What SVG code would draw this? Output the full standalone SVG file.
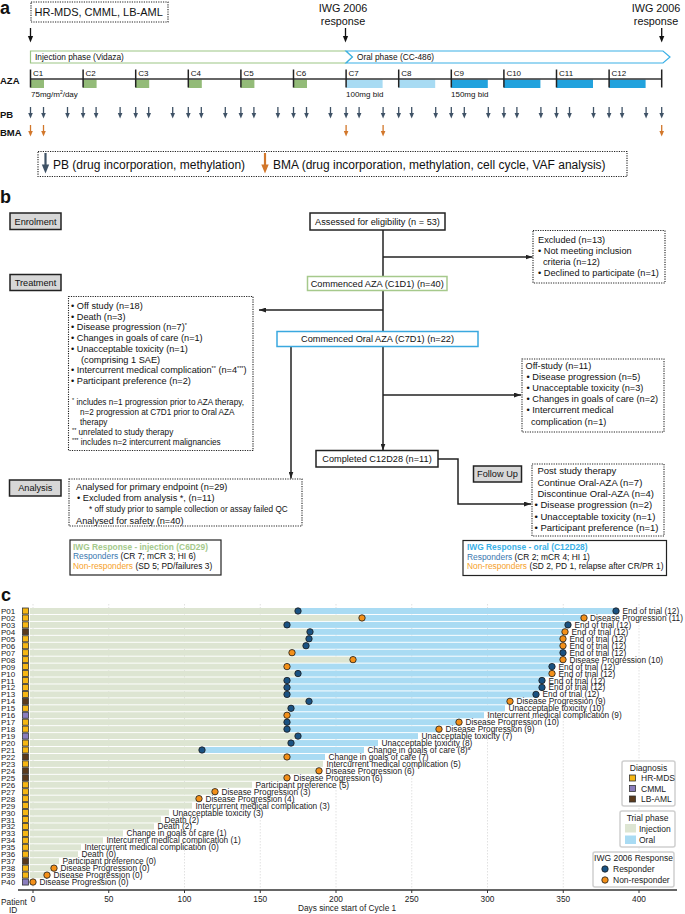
<svg xmlns="http://www.w3.org/2000/svg" xmlns:xlink="http://www.w3.org/1999/xlink" width="685" height="914" viewBox="0 0 685 914">
<style>
text{font-family:"Liberation Sans",Arial,sans-serif;fill:#111}
.pl{font-size:18px;font-weight:bold}
.t8{font-size:8.2px}
.t9{font-size:9.2px}
.tf{font-size:8.2px}
.bold{font-weight:bold}
.dot{fill:none;stroke:#222;stroke-width:1.1;stroke-dasharray:1.2 1.2}
.sol{fill:#fff;stroke:#222;stroke-width:1.5}
.gry{fill:#d7d7d7;stroke:#222;stroke-width:1.5}
.con{fill:none;stroke:#222;stroke-width:1.5}
.inj{fill:#dde5d2}
.ora{fill:#a9dbf3}
.rs{fill:#1a5282;stroke:#1a1a1a;stroke-width:0.8}
.nr{fill:#f39019;stroke:#1a1a1a;stroke-width:0.8}
.dy{fill:#f5b614;stroke:#333;stroke-width:0.8}
.dp{fill:#8a7dbd;stroke:#333;stroke-width:0.8}
.db{fill:#5b3a1c;stroke:#333;stroke-width:0.8}
.pid{font-size:8px;fill:#222}
.lb{font-size:8.3px;fill:#222}
.grid{stroke:#d4d4d4;stroke-width:0.7;stroke-dasharray:1.5 1.5}
.leg{fill:#fff;stroke:#cfcfcf;stroke-width:1.5}
.lt{font-size:8.5px;fill:#222}
</style>
<defs>
<marker id="ah" markerUnits="userSpaceOnUse" markerWidth="7" markerHeight="5" refX="7" refY="2.5" orient="auto"><path d="M0,0 L7,2.5 L0,5 z" fill="#222"/></marker>
<g id="aPB"><line x1="0" y1="0" x2="0" y2="7" stroke="#3f5266" stroke-width="1.3"/><polygon points="-2.3,6 2.3,6 0,11.5" fill="#3f5266"/></g>
<g id="aBM"><line x1="0" y1="0" x2="0" y2="7" stroke="#d2772b" stroke-width="1.3"/><polygon points="-2.3,6 2.3,6 0,11.5" fill="#d2772b"/></g>
<g id="aTop"><line x1="0" y1="0" x2="0" y2="9" stroke="#111" stroke-width="1.3"/><polygon points="-2.6,8 2.6,8 0,14.5" fill="#111"/></g>
</defs>

<!-- ===== Panel a ===== -->
<g id="panel-a">
<text class="pl" x="0" y="14">a</text>
<g id="a-entry">
<rect class="dot" x="31" y="2" width="137" height="20"/>
<text x="34.5" y="16" font-size="11px">HR-MDS, CMML, LB-AML</text>
<use xlink:href="#aTop" x="30.5" y="28"/>
</g>
<g id="a-iwg1">
<text x="343" y="11.5" font-size="10.8px" text-anchor="middle">IWG 2006</text>
<text x="343" y="25" font-size="10.8px" text-anchor="middle">response</text>
<use xlink:href="#aTop" x="345.5" y="28"/>
</g>
<g id="a-iwg2">
<text x="656" y="11.5" font-size="10.8px" text-anchor="middle">IWG 2006</text>
<text x="656" y="25" font-size="10.8px" text-anchor="middle">response</text>
<use xlink:href="#aTop" x="661.7" y="28"/>
</g>
<g id="a-phases">
<polygon points="30.5,51 346,51 352.5,57 346,63 30.5,63" fill="#fff" stroke="#9cc584" stroke-width="1.2"/>
<text x="35" y="60" font-size="8.3px" fill="#222">Injection phase (Vidaza)</text>
<polygon points="346,51 663,51 670,57 663,63 346,63 352.5,57" fill="#fff" stroke="#3ab0e6" stroke-width="1.2"/>
<text x="357" y="60" font-size="8.3px" fill="#222">Oral phase (CC-486)</text>
</g>
<g id="a-aza">
<text x="0" y="84" font-size="9.5px" class="bold">AZA</text>
<g fill="#93bb78">
<rect x="30.5" y="79.5" width="13.5" height="8.5"/><rect x="83.1" y="79.5" width="13.5" height="8.5"/><rect x="135.7" y="79.5" width="13.5" height="8.5"/><rect x="188.3" y="79.5" width="13.5" height="8.5"/><rect x="240.9" y="79.5" width="13.5" height="8.5"/><rect x="293.5" y="79.5" width="13.5" height="8.5"/>
</g>
<g fill="#a8dbf3"><rect x="346.1" y="79.5" width="36.5" height="8.5"/><rect x="398.7" y="79.5" width="36.5" height="8.5"/></g>
<g fill="#22a2dd"><rect x="451.3" y="79.5" width="36.5" height="8.5"/><rect x="503.9" y="79.5" width="36.5" height="8.5"/><rect x="556.5" y="79.5" width="36.5" height="8.5"/><rect x="609.1" y="79.5" width="36.5" height="8.5"/></g>
<line x1="30.5" y1="79" x2="661.7" y2="79" stroke="#333" stroke-width="1.5"/>
<g stroke="#222" stroke-width="1.5">
<line x1="30.5" y1="69.5" x2="30.5" y2="87.5"/><line x1="83.1" y1="69.5" x2="83.1" y2="87.5"/><line x1="135.7" y1="69.5" x2="135.7" y2="87.5"/><line x1="188.3" y1="69.5" x2="188.3" y2="87.5"/><line x1="240.9" y1="69.5" x2="240.9" y2="87.5"/><line x1="293.5" y1="69.5" x2="293.5" y2="87.5"/><line x1="346.1" y1="69.5" x2="346.1" y2="87.5"/><line x1="398.7" y1="69.5" x2="398.7" y2="87.5"/><line x1="451.3" y1="69.5" x2="451.3" y2="87.5"/><line x1="503.9" y1="69.5" x2="503.9" y2="87.5"/><line x1="556.5" y1="69.5" x2="556.5" y2="87.5"/><line x1="609.1" y1="69.5" x2="609.1" y2="87.5"/><line x1="661.7" y1="69.5" x2="661.7" y2="87.5"/>
</g>
<g font-size="8px">
<text x="33" y="76">C1</text><text x="85.6" y="76">C2</text><text x="138.2" y="76">C3</text><text x="190.8" y="76">C4</text><text x="243.4" y="76">C5</text><text x="296" y="76">C6</text><text x="348.6" y="76">C7</text><text x="401.2" y="76">C8</text><text x="453.8" y="76">C9</text><text x="506.4" y="76">C10</text><text x="559" y="76">C11</text><text x="611.6" y="76">C12</text>
</g>
<text x="31" y="97" font-size="8px">75mg/m<tspan font-size="5px" dy="-3">2</tspan><tspan dy="3">/day</tspan></text>
<text x="346" y="97" font-size="8px">100mg bid</text>
<text x="451" y="97" font-size="8px">150mg bid</text>
</g>
<g id="a-pb">
<text x="0" y="117.5" font-size="9.5px" class="bold">PB</text>
<use xlink:href="#aPB" x="30.5" y="107"/><use xlink:href="#aPB" x="43.5" y="107"/><use xlink:href="#aPB" x="67.5" y="107"/>
<use xlink:href="#aPB" x="83.1" y="107"/><use xlink:href="#aPB" x="96.1" y="107"/><use xlink:href="#aPB" x="120.1" y="107"/>
<use xlink:href="#aPB" x="135.7" y="107"/><use xlink:href="#aPB" x="148.7" y="107"/><use xlink:href="#aPB" x="172.7" y="107"/>
<use xlink:href="#aPB" x="188.3" y="107"/><use xlink:href="#aPB" x="201.3" y="107"/><use xlink:href="#aPB" x="225.3" y="107"/>
<use xlink:href="#aPB" x="240.9" y="107"/><use xlink:href="#aPB" x="253.9" y="107"/><use xlink:href="#aPB" x="277.9" y="107"/>
<use xlink:href="#aPB" x="293.5" y="107"/><use xlink:href="#aPB" x="306.5" y="107"/><use xlink:href="#aPB" x="330.5" y="107"/>
<use xlink:href="#aPB" x="346.1" y="107"/><use xlink:href="#aPB" x="359.1" y="107"/><use xlink:href="#aPB" x="383.1" y="107"/>
<use xlink:href="#aPB" x="398.7" y="107"/><use xlink:href="#aPB" x="411.7" y="107"/><use xlink:href="#aPB" x="435.7" y="107"/>
<use xlink:href="#aPB" x="451.3" y="107"/><use xlink:href="#aPB" x="464.3" y="107"/><use xlink:href="#aPB" x="488.3" y="107"/>
<use xlink:href="#aPB" x="503.9" y="107"/><use xlink:href="#aPB" x="516.9" y="107"/><use xlink:href="#aPB" x="540.9" y="107"/>
<use xlink:href="#aPB" x="556.5" y="107"/><use xlink:href="#aPB" x="569.5" y="107"/><use xlink:href="#aPB" x="593.5" y="107"/>
<use xlink:href="#aPB" x="609.1" y="107"/><use xlink:href="#aPB" x="622.1" y="107"/><use xlink:href="#aPB" x="646.1" y="107"/>
<use xlink:href="#aPB" x="661.7" y="107"/>
</g>
<g id="a-bma">
<text x="0" y="136" font-size="9.5px" class="bold">BMA</text>
<use xlink:href="#aBM" x="30.5" y="125"/><use xlink:href="#aBM" x="43.5" y="125"/><use xlink:href="#aBM" x="346.1" y="125"/><use xlink:href="#aBM" x="383.1" y="125"/><use xlink:href="#aBM" x="661.7" y="125"/>
</g>
<g id="a-legend">
<rect class="dot" x="38" y="151.5" width="589" height="25"/>
<line x1="45.5" y1="153" x2="45.5" y2="166" stroke="#3f5266" stroke-width="2.2"/><polygon points="41.8,164.5 49.2,164.5 45.5,173.5" fill="#3f5266"/>
<text x="53" y="168.5" font-size="12px">PB (drug incorporation, methylation)</text>
<line x1="265" y1="153" x2="265" y2="166" stroke="#d2772b" stroke-width="2.2"/><polygon points="261.3,164.5 268.7,164.5 265,173.5" fill="#d2772b"/>
<text x="273" y="168.5" font-size="12px">BMA (drug incorporation, methylation, cell cycle, VAF analysis)</text>
</g>
</g>

<!-- ===== Panel b ===== -->
<g id="panel-b">
<text class="pl" x="0" y="203">b</text>
<g id="connectors">
<path class="con" d="M383,230 V276.5"/>
<path class="con" d="M383,257 H532.5" marker-end="url(#ah)"/>
<path class="con" d="M383,290.5 V331.5"/>
<path class="con" d="M383,310 H259" marker-end="url(#ah)"/>
<path class="con" d="M383,346.5 V450.5" marker-end="url(#ah)"/>
<path class="con" d="M383,395 H521" marker-end="url(#ah)"/>
<path class="con" d="M291,346.5 V478.5" marker-end="url(#ah)"/>
<path class="con" d="M438,459 H458 V504 H531" marker-end="url(#ah)"/>
</g>
<g id="enrolment"><rect class="gry" x="10" y="213" width="51" height="16.5"/><text class="t9" x="35.5" y="224.5" text-anchor="middle">Enrolment</text></g>
<g id="treatment"><rect class="gry" x="10" y="274.5" width="51" height="16"/><text class="t9" x="35.5" y="285.8" text-anchor="middle">Treatment</text></g>
<g id="analysis"><rect class="gry" x="9.5" y="480" width="51.5" height="16"/><text class="t9" x="35.25" y="491.3" text-anchor="middle">Analysis</text></g>
<g id="followup"><rect class="gry" x="473.5" y="466" width="48" height="16"/><text class="t9" x="497.5" y="477.3" text-anchor="middle">Follow Up</text></g>
<g id="assessed"><rect class="sol" x="310" y="213" width="135" height="17"/><text class="t9" x="377.5" y="224.8" text-anchor="middle">Assessed for eligibility (n = 53)</text></g>
<g id="c1d1"><rect x="307.5" y="276.5" width="139.5" height="14" fill="#fff" stroke="#a6c98c" stroke-width="1.5"/><text class="t9" x="377.25" y="286.8" text-anchor="middle">Commenced AZA (C1D1) (n=40)</text></g>
<g id="c7d1"><rect x="277" y="331.5" width="201" height="15" fill="#fff" stroke="#3aa8df" stroke-width="1.5"/><text class="t9" x="377.5" y="342.3" text-anchor="middle">Commenced Oral AZA (C7D1) (n=22)</text></g>
<g id="completed"><rect class="sol" x="316" y="450.5" width="122" height="16.5"/><text class="t9" x="377" y="462" text-anchor="middle">Completed C12D28 (n=11)</text></g>
<g id="excluded">
<rect class="dot" x="533" y="230.5" width="132" height="52.5"/>
<text class="t9" x="538" y="242.5">Excluded (n=13)</text>
<text class="t9" x="538" y="254">• Not meeting inclusion</text>
<text class="t9" x="543" y="265">criteria (n=12)</text>
<text class="t9" x="538" y="276">• Declined to participate (n=1)</text>
</g>
<g id="offstudy-injection">
<rect class="dot" x="68.5" y="296.5" width="184.5" height="154"/>
<text class="t9" x="71" y="309">• Off study (n=18)</text>
<text class="t9" x="71" y="319.7">• Death (n=3)</text>
<text class="t9" x="71" y="330.4">• Disease progression (n=7)<tspan font-size="5.5px" dy="-3.5">*</tspan></text>
<text class="t9" x="71" y="341.1">• Changes in goals of care (n=1)</text>
<text class="t9" x="71" y="351.8">• Unacceptable toxicity (n=1)</text>
<text class="t9" x="81" y="362.5" font-size="8.5px">(comprising 1 SAE)</text>
<text class="t9" x="71" y="373.2">• Intercurrent medical complication<tspan font-size="5.5px" dy="-3.5">**</tspan><tspan dy="3.5"> (n=4</tspan><tspan font-size="5.5px" dy="-3.5">***</tspan><tspan dy="3.5">)</tspan></text>
<text class="t9" x="71" y="383.9">• Participant preference (n=2)</text>
<text class="tf" x="72" y="405"><tspan font-size="5.5px" dy="-3">*</tspan><tspan dy="3"> includes n=1 progression prior to AZA therapy,</tspan></text>
<text class="tf" x="80" y="415">n=2 progression at C7D1 prior to Oral AZA</text>
<text class="tf" x="80" y="425">therapy</text>
<text class="tf" x="72" y="435"><tspan font-size="5.5px" dy="-3">**</tspan><tspan dy="3"> unrelated to study therapy</tspan></text>
<text class="tf" x="72" y="445"><tspan font-size="5.5px" dy="-3">***</tspan><tspan dy="3"> includes n=2 intercurrent malignancies</tspan></text>
</g>
<g id="offstudy-oral">
<rect class="dot" x="522" y="359" width="142" height="73"/>
<text class="t9" x="525.5" y="368.5">Off-study (n=11)</text>
<text class="t9" x="526.5" y="380">• Disease progression (n=5)</text>
<text class="t9" x="526.5" y="391">• Unacceptable toxicity (n=3)</text>
<text class="t9" x="526.5" y="402">• Changes in goals of care (n=2)</text>
<text class="t9" x="526.5" y="413">• Intercurrent medical</text>
<text class="t9" x="531" y="424.5">complication (n=1)</text>
</g>
<g id="poststudy">
<rect class="dot" x="532" y="464" width="132" height="72"/>
<text x="537.5" y="474.3" font-size="9.5px">Post study therapy</text>
<text x="537.5" y="485.6" font-size="9.5px">Continue Oral-AZA (n=7)</text>
<text x="537.5" y="496.9" font-size="9.5px">Discontinue Oral-AZA (n=4)</text>
<text x="534.5" y="508.2" font-size="9.5px">• Disease progression (n=2)</text>
<text x="534.5" y="519.5" font-size="9.5px">• Unacceptable toxicity (n=1)</text>
<text x="534.5" y="530.8" font-size="9.5px">• Participant preference (n=1)</text>
</g>
<g id="analysed">
<rect class="dot" x="69" y="479" width="233" height="47"/>
<text class="t9" x="76" y="490.3">Analysed for primary endpoint (n=29)</text>
<text class="t9" x="77" y="501.3">• Excluded from analysis *,  (n=11)</text>
<text class="tf" x="89" y="512">* off study prior to sample collection or assay failed QC</text>
<text class="t9" x="76" y="523.5">Analysed for safety (n=40)</text>
</g>
<g id="iwg-injection">
<rect x="70" y="540" width="151" height="35" fill="#fff" stroke="#222" stroke-width="1.2"/>
<text x="73" y="549.5" font-size="8.4px" class="bold" style="fill:#a4c98b">IWG Response - injection (C6D29)</text>
<text x="73" y="559.2" font-size="8.4px"><tspan style="fill:#3b78b0">Responders</tspan> (CR 7; mCR 3;  HI 6)</text>
<text x="73" y="568.9" font-size="8.4px"><tspan style="fill:#f6a12b">Non-responders</tspan> (SD 5; PD/failures 3)</text>
</g>
<g id="iwg-oral">
<rect x="463" y="540.5" width="203.5" height="35" fill="#fff" stroke="#222" stroke-width="1.2"/>
<text x="467" y="550" font-size="8.4px" class="bold" style="fill:#3ab0e6">IWG Response - oral (C12D28)</text>
<text x="467" y="559.7" font-size="8.4px"><tspan style="fill:#3b78b0">Responders</tspan> (CR 2; mCR 4; HI 1)</text>
<text x="467" y="569.4" font-size="8.4px"><tspan style="fill:#f6a12b">Non-responders</tspan> (SD 2, PD 1, relapse after CR/PR 1)</text>
</g>
</g>

<!-- ===== Panel c ===== -->
<g id="panel-c">
<text class="pl" x="1" y="601">c</text>
<g id="grid">
<line class="grid" x1="33" y1="604" x2="33" y2="889"/><line class="grid" x1="108.75" y1="604" x2="108.75" y2="889"/><line class="grid" x1="184.5" y1="604" x2="184.5" y2="889"/><line class="grid" x1="260.25" y1="604" x2="260.25" y2="889"/><line class="grid" x1="336" y1="604" x2="336" y2="889"/><line class="grid" x1="411.75" y1="604" x2="411.75" y2="889"/><line class="grid" x1="487.5" y1="604" x2="487.5" y2="889"/><line class="grid" x1="563.25" y1="604" x2="563.25" y2="889"/><line class="grid" x1="639" y1="604" x2="639" y2="889"/>
</g>
<g id="rows">
<g id="P01" transform="translate(0,611)"><text class="pid" x="1" y="3">P01</text><rect class="dy" x="22.5" y="-3" width="6" height="6"/><rect class="inj" x="30" y="-3" width="268" height="6"/><rect class="ora" x="298" y="-3" width="318" height="6"/><circle class="rs" cx="298" r="3.2"/><circle class="rs" cx="616" r="3.2"/><text class="lb" x="622.5" y="3">End of trial (12)</text></g>
<g id="P02" transform="translate(0,617.95)"><text class="pid" x="1" y="3">P02</text><rect class="dy" x="22.5" y="-3" width="6" height="6"/><rect class="inj" x="30" y="-3" width="332" height="6"/><rect class="ora" x="362" y="-3" width="222" height="6"/><circle class="nr" cx="362" r="3.2"/><circle class="nr" cx="584" r="3.2"/><text class="lb" x="590" y="3">Disease Progression (11)</text></g>
<g id="P03" transform="translate(0,624.9)"><text class="pid" x="1" y="3">P03</text><rect class="dy" x="22.5" y="-3" width="6" height="6"/><rect class="inj" x="30" y="-3" width="257" height="6"/><rect class="ora" x="287" y="-3" width="281" height="6"/><circle class="rs" cx="287" r="3.2"/><circle class="rs" cx="568" r="3.2"/><text class="lb" x="574.5" y="3">End of trial (12)</text></g>
<g id="P04" transform="translate(0,631.85)"><text class="pid" x="1" y="3">P04</text><rect class="db" x="22.5" y="-3" width="6" height="6"/><rect class="inj" x="30" y="-3" width="280" height="6"/><rect class="ora" x="310" y="-3" width="255" height="6"/><circle class="rs" cx="310" r="3.2"/><circle class="nr" cx="565" r="3.2"/><text class="lb" x="571.5" y="3">End of trial (12)</text></g>
<g id="P05" transform="translate(0,638.8)"><text class="pid" x="1" y="3">P05</text><rect class="dy" x="22.5" y="-3" width="6" height="6"/><rect class="inj" x="30" y="-3" width="279" height="6"/><rect class="ora" x="309" y="-3" width="254" height="6"/><circle class="rs" cx="309" r="3.2"/><circle class="nr" cx="563" r="3.2"/><text class="lb" x="569.5" y="3">End of trial (12)</text></g>
<g id="P06" transform="translate(0,645.75)"><text class="pid" x="1" y="3">P06</text><rect class="dy" x="22.5" y="-3" width="6" height="6"/><rect class="inj" x="30" y="-3" width="276" height="6"/><rect class="ora" x="306" y="-3" width="257" height="6"/><circle class="rs" cx="306" r="3.2"/><circle class="nr" cx="563" r="3.2"/><text class="lb" x="569.5" y="3">End of trial (12)</text></g>
<g id="P07" transform="translate(0,652.7)"><text class="pid" x="1" y="3">P07</text><rect class="dy" x="22.5" y="-3" width="6" height="6"/><rect class="inj" x="30" y="-3" width="262" height="6"/><rect class="ora" x="292" y="-3" width="271" height="6"/><circle class="nr" cx="292" r="3.2"/><circle class="rs" cx="563" r="3.2"/><text class="lb" x="569.5" y="3">End of trial (12)</text></g>
<g id="P08" transform="translate(0,659.65)"><text class="pid" x="1" y="3">P08</text><rect class="dy" x="22.5" y="-3" width="6" height="6"/><rect class="inj" x="30" y="-3" width="323" height="6"/><rect class="ora" x="353" y="-3" width="210" height="6"/><circle class="nr" cx="353" r="3.2"/><circle class="nr" cx="563" r="3.2"/><text class="lb" x="569.5" y="3">Disease Progression (10)</text></g>
<g id="P09" transform="translate(0,666.6)"><text class="pid" x="1" y="3">P09</text><rect class="dy" x="22.5" y="-3" width="6" height="6"/><rect class="inj" x="30" y="-3" width="257" height="6"/><rect class="ora" x="287" y="-3" width="265" height="6"/><circle class="nr" cx="287" r="3.2"/><circle class="rs" cx="552" r="3.2"/><text class="lb" x="558.5" y="3">End of trial (12)</text></g>
<g id="P10" transform="translate(0,673.55)"><text class="pid" x="1" y="3">P10</text><rect class="dy" x="22.5" y="-3" width="6" height="6"/><rect class="inj" x="30" y="-3" width="268" height="6"/><rect class="ora" x="298" y="-3" width="254" height="6"/><circle class="rs" cx="298" r="3.2"/><circle class="nr" cx="552" r="3.2"/><text class="lb" x="558.5" y="3">End of trial (12)</text></g>
<g id="P11" transform="translate(0,680.5)"><text class="pid" x="1" y="3">P11</text><rect class="dy" x="22.5" y="-3" width="6" height="6"/><rect class="inj" x="30" y="-3" width="257" height="6"/><rect class="ora" x="287" y="-3" width="255" height="6"/><circle class="rs" cx="287" r="3.2"/><circle class="rs" cx="542" r="3.2"/><text class="lb" x="548.5" y="3">End of trial (12)</text></g>
<g id="P12" transform="translate(0,687.45)"><text class="pid" x="1" y="3">P12</text><rect class="dy" x="22.5" y="-3" width="6" height="6"/><rect class="inj" x="30" y="-3" width="257" height="6"/><rect class="ora" x="287" y="-3" width="255" height="6"/><circle class="rs" cx="287" r="3.2"/><circle class="rs" cx="542" r="3.2"/><text class="lb" x="548.5" y="3">End of trial (12)</text></g>
<g id="P13" transform="translate(0,694.4)"><text class="pid" x="1" y="3">P13</text><rect class="dy" x="22.5" y="-3" width="6" height="6"/><rect class="inj" x="30" y="-3" width="257" height="6"/><rect class="ora" x="287" y="-3" width="249" height="6"/><circle class="rs" cx="287" r="3.2"/><circle class="rs" cx="536" r="3.2"/><text class="lb" x="542.5" y="3">End of trial (12)</text></g>
<g id="P14" transform="translate(0,701.35)"><text class="pid" x="1" y="3">P14</text><rect class="db" x="22.5" y="-3" width="6" height="6"/><rect class="inj" x="30" y="-3" width="279" height="6"/><rect class="ora" x="309" y="-3" width="201" height="6"/><circle class="rs" cx="309" r="3.2"/><circle class="nr" cx="510" r="3.2"/><text class="lb" x="516.5" y="3">Disease Progression (9)</text></g>
<g id="P15" transform="translate(0,708.3)"><text class="pid" x="1" y="3">P15</text><rect class="dy" x="22.5" y="-3" width="6" height="6"/><rect class="inj" x="30" y="-3" width="261" height="6"/><rect class="ora" x="291" y="-3" width="214" height="6"/><circle class="rs" cx="291" r="3.2"/><text class="lb" x="508.5" y="3">Unacceptable toxicity (10)</text></g>
<g id="P16" transform="translate(0,715.25)"><text class="pid" x="1" y="3">P16</text><rect class="dp" x="22.5" y="-3" width="6" height="6"/><rect class="inj" x="30" y="-3" width="257" height="6"/><rect class="ora" x="287" y="-3" width="197" height="6"/><circle class="nr" cx="287" r="3.2"/><text class="lb" x="487.5" y="3">Intercurrent medical complication (9)</text></g>
<g id="P17" transform="translate(0,722.2)"><text class="pid" x="1" y="3">P17</text><rect class="dy" x="22.5" y="-3" width="6" height="6"/><rect class="inj" x="30" y="-3" width="257" height="6"/><rect class="ora" x="287" y="-3" width="172" height="6"/><circle class="rs" cx="287" r="3.2"/><circle class="nr" cx="459" r="3.2"/><text class="lb" x="465.5" y="3">Disease Progression (10)</text></g>
<g id="P18" transform="translate(0,729.15)"><text class="pid" x="1" y="3">P18</text><rect class="dy" x="22.5" y="-3" width="6" height="6"/><rect class="inj" x="30" y="-3" width="257" height="6"/><rect class="ora" x="287" y="-3" width="152" height="6"/><circle class="rs" cx="287" r="3.2"/><circle class="nr" cx="439" r="3.2"/><text class="lb" x="445.5" y="3">Disease Progression (9)</text></g>
<g id="P19" transform="translate(0,736.1)"><text class="pid" x="1" y="3">P19</text><rect class="dp" x="22.5" y="-3" width="6" height="6"/><rect class="inj" x="30" y="-3" width="268" height="6"/><rect class="ora" x="298" y="-3" width="120" height="6"/><circle class="rs" cx="298" r="3.2"/><text class="lb" x="421.5" y="3">Unacceptable toxicity (7)</text></g>
<g id="P20" transform="translate(0,743.05)"><text class="pid" x="1" y="3">P20</text><rect class="dy" x="22.5" y="-3" width="6" height="6"/><rect class="inj" x="30" y="-3" width="261" height="6"/><rect class="ora" x="291" y="-3" width="87" height="6"/><circle class="rs" cx="291" r="3.2"/><text class="lb" x="381.5" y="3">Unacceptable toxicity (8)</text></g>
<g id="P21" transform="translate(0,750)"><text class="pid" x="1" y="3">P21</text><rect class="dy" x="22.5" y="-3" width="6" height="6"/><rect class="inj" x="30" y="-3" width="172" height="6"/><rect class="ora" x="202" y="-3" width="162" height="6"/><circle class="rs" cx="202" r="3.2"/><text class="lb" x="367.5" y="3">Change in goals of care (8)<tspan font-size="5px" dy="-3">a</tspan></text></g>
<g id="P22" transform="translate(0,756.95)"><text class="pid" x="1" y="3">P22</text><rect class="db" x="22.5" y="-3" width="6" height="6"/><rect class="inj" x="30" y="-3" width="257" height="6"/><rect class="ora" x="287" y="-3" width="38" height="6"/><circle class="nr" cx="287" r="3.2"/><text class="lb" x="328.5" y="3">Change in goals of care (7)</text></g>
<g id="P23" transform="translate(0,763.9)"><text class="pid" x="1" y="3">P23</text><rect class="dy" x="22.5" y="-3" width="6" height="6"/><rect class="inj" x="30" y="-3" width="293" height="6"/><text class="lb" x="326.5" y="3">Intercurrent medical complication (5)</text></g>
<g id="P24" transform="translate(0,770.85)"><text class="pid" x="1" y="3">P24</text><rect class="db" x="22.5" y="-3" width="6" height="6"/><rect class="inj" x="30" y="-3" width="289" height="6"/><circle class="nr" cx="319" r="3.2"/><text class="lb" x="325.5" y="3">Disease Progression (6)</text></g>
<g id="P25" transform="translate(0,777.8)"><text class="pid" x="1" y="3">P25</text><rect class="db" x="22.5" y="-3" width="6" height="6"/><rect class="inj" x="30" y="-3" width="257" height="6"/><circle class="nr" cx="287" r="3.2"/><text class="lb" x="293.5" y="3">Disease Progression (6)</text></g>
<g id="P26" transform="translate(0,784.75)"><text class="pid" x="1" y="3">P26</text><rect class="dy" x="22.5" y="-3" width="6" height="6"/><rect class="inj" x="30" y="-3" width="222" height="6"/><text class="lb" x="255.5" y="3">Participant preference (5)</text></g>
<g id="P27" transform="translate(0,791.7)"><text class="pid" x="1" y="3">P27</text><rect class="dy" x="22.5" y="-3" width="6" height="6"/><rect class="inj" x="30" y="-3" width="185" height="6"/><circle class="nr" cx="215" r="3.2"/><text class="lb" x="221.5" y="3">Disease Progression (3)</text></g>
<g id="P28" transform="translate(0,798.65)"><text class="pid" x="1" y="3">P28</text><rect class="dy" x="22.5" y="-3" width="6" height="6"/><rect class="inj" x="30" y="-3" width="169" height="6"/><circle class="nr" cx="199" r="3.2"/><text class="lb" x="205.5" y="3">Disease Progression (4)</text></g>
<g id="P29" transform="translate(0,805.6)"><text class="pid" x="1" y="3">P29</text><rect class="dy" x="22.5" y="-3" width="6" height="6"/><rect class="inj" x="30" y="-3" width="162" height="6"/><text class="lb" x="195.5" y="3">Intercurrent medical complication (3)</text></g>
<g id="P30" transform="translate(0,812.55)"><text class="pid" x="1" y="3">P30</text><rect class="dy" x="22.5" y="-3" width="6" height="6"/><rect class="inj" x="30" y="-3" width="139" height="6"/><text class="lb" x="172.5" y="3">Unacceptable toxicity (3)</text></g>
<g id="P31" transform="translate(0,819.5)"><text class="pid" x="1" y="3">P31</text><rect class="dy" x="22.5" y="-3" width="6" height="6"/><rect class="inj" x="30" y="-3" width="131" height="6"/><text class="lb" x="164.5" y="3">Death (2)</text></g>
<g id="P32" transform="translate(0,826.45)"><text class="pid" x="1" y="3">P32</text><rect class="dy" x="22.5" y="-3" width="6" height="6"/><rect class="inj" x="30" y="-3" width="124" height="6"/><text class="lb" x="157.5" y="3">Death (2)</text></g>
<g id="P33" transform="translate(0,833.4)"><text class="pid" x="1" y="3">P33</text><rect class="dy" x="22.5" y="-3" width="6" height="6"/><rect class="inj" x="30" y="-3" width="93" height="6"/><text class="lb" x="126.5" y="3">Change in goals of care (1)</text></g>
<g id="P34" transform="translate(0,840.35)"><text class="pid" x="1" y="3">P34</text><rect class="dy" x="22.5" y="-3" width="6" height="6"/><rect class="inj" x="30" y="-3" width="73" height="6"/><text class="lb" x="106.5" y="3">Intercurrent medical complication (1)</text></g>
<g id="P35" transform="translate(0,847.3)"><text class="pid" x="1" y="3">P35</text><rect class="dy" x="22.5" y="-3" width="6" height="6"/><rect class="inj" x="30" y="-3" width="51" height="6"/><text class="lb" x="84.5" y="3">Intercurrent medical complication (0)</text></g>
<g id="P36" transform="translate(0,854.25)"><text class="pid" x="1" y="3">P36</text><rect class="dy" x="22.5" y="-3" width="6" height="6"/><rect class="inj" x="30" y="-3" width="48" height="6"/><text class="lb" x="81.5" y="3">Death (0)</text></g>
<g id="P37" transform="translate(0,861.2)"><text class="pid" x="1" y="3">P37</text><rect class="db" x="22.5" y="-3" width="6" height="6"/><rect class="inj" x="30" y="-3" width="29" height="6"/><text class="lb" x="62.5" y="3">Participant preference (0)</text></g>
<g id="P38" transform="translate(0,868.15)"><text class="pid" x="1" y="3">P38</text><rect class="dy" x="22.5" y="-3" width="6" height="6"/><rect class="inj" x="30" y="-3" width="24" height="6"/><circle class="nr" cx="54" r="3.2"/><text class="lb" x="60.5" y="3">Disease Progression (0)</text></g>
<g id="P39" transform="translate(0,875.1)"><text class="pid" x="1" y="3">P39</text><rect class="dy" x="22.5" y="-3" width="6" height="6"/><rect class="inj" x="30" y="-3" width="17" height="6"/><circle class="nr" cx="47" r="3.2"/><text class="lb" x="53.5" y="3">Disease Progression (0)</text></g>
<g id="P40" transform="translate(0,882.05)"><text class="pid" x="1" y="3">P40</text><rect class="dp" x="22.5" y="-3" width="6" height="6"/><rect class="inj" x="30" y="-3" width="3" height="6"/><circle class="nr" cx="33" r="3.2"/><text class="lb" x="39.5" y="3">Disease Progression (0)</text></g>
</g>
<g id="axis">
<line x1="18" y1="890" x2="677" y2="890" stroke="#333" stroke-width="1.5"/>
<g stroke="#333" stroke-width="1"><line x1="33" y1="890" x2="33" y2="893"/><line x1="108.75" y1="890" x2="108.75" y2="893"/><line x1="184.5" y1="890" x2="184.5" y2="893"/><line x1="260.25" y1="890" x2="260.25" y2="893"/><line x1="336" y1="890" x2="336" y2="893"/><line x1="411.75" y1="890" x2="411.75" y2="893"/><line x1="487.5" y1="890" x2="487.5" y2="893"/><line x1="563.25" y1="890" x2="563.25" y2="893"/><line x1="639" y1="890" x2="639" y2="893"/></g>
<g class="lb" text-anchor="middle">
<text class="lb" x="33" y="901.5">0</text><text class="lb" x="108.75" y="901.5">50</text><text class="lb" x="184.5" y="901.5">100</text><text class="lb" x="260.25" y="901.5">150</text><text class="lb" x="336" y="901.5">200</text><text class="lb" x="411.75" y="901.5">250</text><text class="lb" x="487.5" y="901.5">300</text><text class="lb" x="563.25" y="901.5">350</text><text class="lb" x="639" y="901.5">400</text>
</g>
<text class="lb" x="1" y="905">Patient</text>
<text class="lb" x="9" y="913">ID</text>
<text class="lb" x="298" y="911">Days since start of Cycle 1</text>
</g>
<g id="legend-diagnosis">
<rect class="leg" x="622" y="761" width="53" height="45" rx="2"/>
<text class="lt" x="648.5" y="770.5" text-anchor="middle">Diagnosis</text>
<rect class="dy" x="629.5" y="775" width="6" height="6"/><text class="lt" x="641" y="781">HR-MDS</text>
<rect class="dp" x="629.5" y="785.5" width="6" height="6"/><text class="lt" x="641" y="791.5">CMML</text>
<rect class="db" x="629.5" y="796" width="6" height="6"/><text class="lt" x="641" y="802">LB-AML</text>
</g>
<g id="legend-phase">
<rect class="leg" x="620" y="811" width="55" height="36" rx="2"/>
<text class="lt" x="647.5" y="820.5" text-anchor="middle">Trial phase</text>
<rect class="inj" x="625" y="824" width="11" height="8.5"/><text class="lt" x="639" y="831.5">Injection</text>
<rect class="ora" x="625" y="835.5" width="11" height="8.5"/><text class="lt" x="639" y="843">Oral</text>
</g>
<g id="legend-response">
<rect class="leg" x="593" y="852" width="81" height="35" rx="2"/>
<text class="lt" x="633.5" y="861" text-anchor="middle">IWG 2006 Response</text>
<circle class="rs" cx="605" cy="869" r="3.2"/><text class="lt" x="613" y="872">Responder</text>
<circle class="nr" cx="605" cy="880" r="3.2"/><text class="lt" x="613" y="883">Non-responder</text>
</g>
</g>
</svg>
